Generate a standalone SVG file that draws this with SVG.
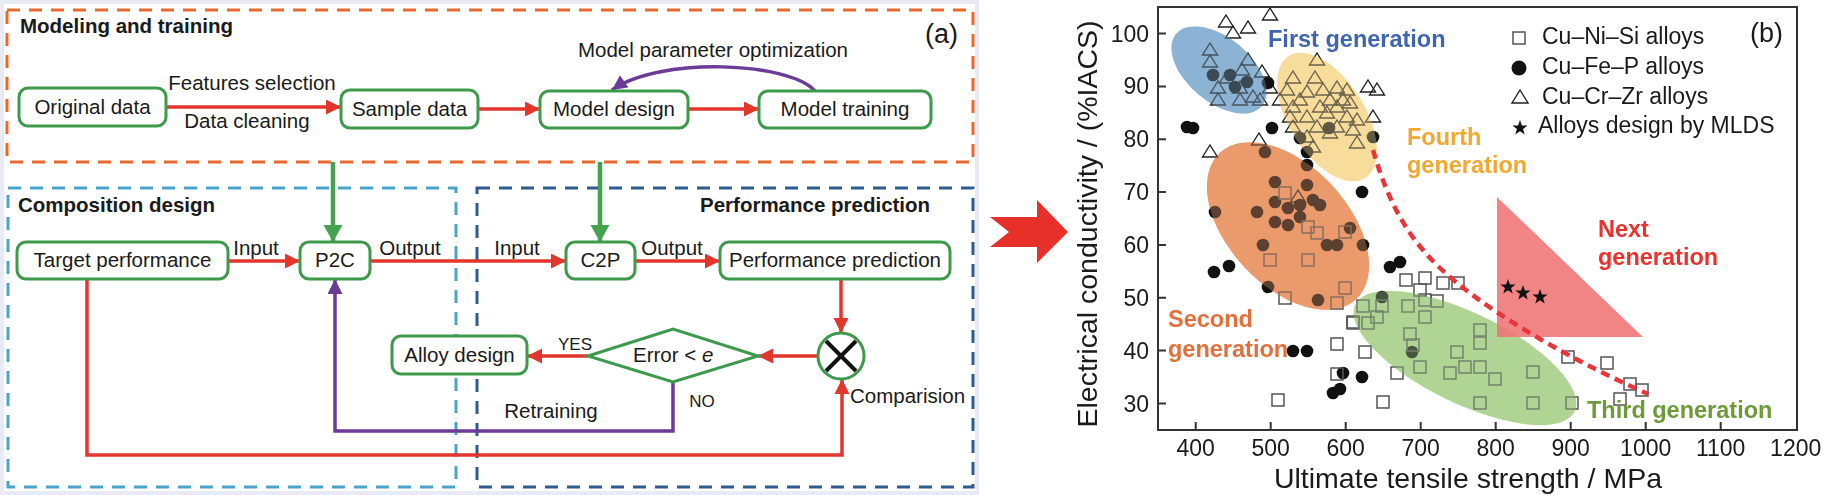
<svg xmlns="http://www.w3.org/2000/svg" xmlns:xlink="http://www.w3.org/1999/xlink" width="1831" height="495" viewBox="0 0 1831 495">
<style>
text{font-family:"Liberation Sans",Arial,sans-serif;fill:#1a1a1a}
.t{font-size:20.5px}
.tb{font-size:20.5px;font-weight:bold}
.sm{font-size:17px}
.c{text-anchor:middle}
.box{fill:#fff;stroke:#3d9a4c;stroke-width:3}
.red{stroke:#e2362d;stroke-width:3.5;fill:none}
.pur{stroke:#6b3b97;stroke-width:3.5;fill:none}
.grn{stroke:#43a34f;stroke-width:4.5;fill:none}
.ax{stroke:#333;stroke-width:2;fill:none}
.tk{font-size:23px}
.lg{font-size:23px}
.gen{font-size:23.5px;font-weight:bold}
</style>
<defs>
<marker id="ar" markerUnits="userSpaceOnUse" markerWidth="16" markerHeight="16" refX="15" refY="7.5" orient="auto"><path d="M0,0 L15,7.5 L0,15 z" fill="#e2362d"/></marker>
<marker id="ap" markerUnits="userSpaceOnUse" markerWidth="16" markerHeight="16" refX="15" refY="7.5" orient="auto"><path d="M0,0 L15,7.5 L0,15 z" fill="#6b3b97"/></marker>
<marker id="ag" markerUnits="userSpaceOnUse" markerWidth="18" markerHeight="20" refX="17" refY="9.5" orient="auto"><path d="M0,0 L17,9.5 L0,19 z" fill="#43a34f"/></marker>
<polygon id="tri" points="0,-7 7.5,5 -7.5,5" fill="none" stroke="#222" stroke-width="1.4"/>
<rect id="sq" x="-6" y="-6" width="12" height="12" fill="none" stroke="#555" stroke-width="1.5"/>
<circle id="dot" r="6.3" fill="#111"/>
<polygon id="star" points="0,-8 1.88,-2.59 7.61,-2.47 3.04,0.99 4.7,6.47 0,3.2 -4.7,6.47 -3.04,0.99 -7.61,-2.47 -1.88,-2.59" fill="#111"/>
</defs>
<rect width="1831" height="495" fill="#fff"/>
<!-- panel (a) frame -->
<rect x="2" y="2" width="975" height="491" fill="#fff" stroke="#e8ebf3" stroke-width="4"/>
<g id="group-modeling">
<rect x="7" y="10" width="966" height="152" fill="none" stroke="#e8692e" stroke-width="3" stroke-dasharray="13 9"/>
<text class="tb" x="20" y="33">Modeling and training</text>
</g>
<g id="group-composition">
<rect x="8" y="188" width="448" height="299" fill="none" stroke="#4aa3c9" stroke-width="3" stroke-dasharray="13 9"/>
<text class="tb" x="18" y="212">Composition design</text>
</g>
<g id="group-performance">
<rect x="477" y="188" width="496" height="299" fill="none" stroke="#2f5b8f" stroke-width="3" stroke-dasharray="13 9"/>
<text class="tb" x="700" y="212">Performance prediction</text>
</g>
<text class="t" x="925" y="43" style="font-size:27px">(a)</text>
<g id="connectors">
<line class="red" x1="166" y1="107" x2="341" y2="107" marker-end="url(#ar)"/>
<line class="red" x1="478" y1="109" x2="540" y2="109" marker-end="url(#ar)"/>
<line class="red" x1="688" y1="109" x2="759" y2="109" marker-end="url(#ar)"/>
<path class="pur" d="M815,91 C790,62 660,56 612,90" marker-end="url(#ap)"/>
<line class="grn" x1="333" y1="162" x2="333" y2="242" marker-end="url(#ag)"/>
<line class="grn" x1="600" y1="162" x2="600" y2="242" marker-end="url(#ag)"/>
<line class="red" x1="228" y1="261" x2="300" y2="261" marker-end="url(#ar)"/>
<line class="red" x1="370" y1="261" x2="566" y2="261" marker-end="url(#ar)"/>
<line class="red" x1="635" y1="261" x2="720" y2="261" marker-end="url(#ar)"/>
<line class="red" x1="841" y1="279" x2="841" y2="333" marker-end="url(#ar)"/>
<line class="red" x1="818" y1="356" x2="758" y2="356" marker-end="url(#ar)"/>
<line class="red" x1="588" y1="356" x2="527" y2="356" marker-end="url(#ar)"/>
<polyline class="pur" points="673,382 673,431 335,431 335,279" marker-end="url(#ap)"/>
<polyline class="red" points="87,279 87,455 842,455 842,379" marker-end="url(#ar)"/>
<text class="t c" x="252" y="90">Features selection</text>
<text class="t c" x="247" y="128">Data cleaning</text>
<text class="t c" x="713" y="57">Model parameter optimization</text>
<text class="t c" x="256" y="255">Input</text>
<text class="t c" x="410" y="255">Output</text>
<text class="t c" x="517" y="255">Input</text>
<text class="t c" x="672" y="255">Output</text>
<text class="sm c" x="575" y="350">YES</text>
<text class="sm c" x="702" y="407">NO</text>
<text class="t c" x="551" y="418">Retraining</text>
<text class="t" x="850" y="403">Comparision</text>
</g>
<g id="node-original"><rect class="box" x="19" y="88" width="147" height="38" rx="9"/><text class="t c" x="92.5" y="114">Original data</text></g>
<g id="node-sample"><rect class="box" x="341" y="90" width="137" height="38" rx="9"/><text class="t c" x="409.5" y="116">Sample data</text></g>
<g id="node-modeldesign"><rect class="box" x="540" y="91" width="148" height="37" rx="9"/><text class="t c" x="614" y="116">Model design</text></g>
<g id="node-modeltraining"><rect class="box" x="759" y="91" width="172" height="37" rx="9"/><text class="t c" x="845" y="116">Model training</text></g>
<g id="node-target"><rect class="box" x="17" y="242" width="211" height="37" rx="9"/><text class="t c" x="122.5" y="267">Target performance</text></g>
<g id="node-p2c"><rect class="box" x="300" y="242" width="70" height="37" rx="9"/><text class="t c" x="335" y="267">P2C</text></g>
<g id="node-c2p"><rect class="box" x="566" y="242" width="69" height="37" rx="9"/><text class="t c" x="600.5" y="267">C2P</text></g>
<g id="node-perfpred"><rect class="box" x="720" y="242" width="230" height="37" rx="9"/><text class="t c" x="835" y="267">Performance prediction</text></g>
<g id="node-alloy"><rect class="box" x="392" y="336" width="135" height="38" rx="9"/><text class="t c" x="459.5" y="362">Alloy design</text></g>
<g id="node-error"><polygon points="588,356 673,329 758,356 673,382" fill="#fff" stroke="#3d9a4c" stroke-width="3"/><text class="t" x="633" y="362">Error &lt; <tspan font-style="italic">e</tspan></text></g>
<g id="node-compare"><circle cx="841" cy="356" r="23" fill="#fff" stroke="#3d9a4c" stroke-width="3"/><path d="M826,341 L856,371 M856,341 L826,371" stroke="#111" stroke-width="4"/></g>
<!-- big arrow -->
<polygon points="990,217 1009,232 990,247 1037,247 1037,263 1068,232 1037,200 1037,217" fill="#e8302a"/>
<!-- panel (b) -->
<g id="plot">
<ellipse cx="1219" cy="70" rx="56" ry="32" transform="rotate(40 1219 70)" fill="#8db2d4"/>
<ellipse cx="1327" cy="117" rx="72" ry="38" transform="rotate(58 1327 117)" fill="#f7dc9c"/>
<ellipse cx="1288" cy="226" rx="100" ry="60" transform="rotate(47 1288 226)" fill="#ec9a6c"/>
<ellipse cx="1465" cy="358" rx="122" ry="45" transform="rotate(26 1465 358)" fill="#b0d494"/>
<g id="triangles">
<use href="#tri" x="1226" y="22"/><use href="#tri" x="1233" y="33"/><use href="#tri" x="1248" y="28"/><use href="#tri" x="1270" y="15"/>
<use href="#tri" x="1210" y="50"/><use href="#tri" x="1210" y="62"/><use href="#tri" x="1248" y="60"/>
<use href="#tri" x="1227" y="78"/><use href="#tri" x="1242" y="70"/><use href="#tri" x="1262" y="72"/>
<use href="#tri" x="1218" y="88"/><use href="#tri" x="1218" y="100"/><use href="#tri" x="1240" y="88"/><use href="#tri" x="1240" y="100"/><use href="#tri" x="1253" y="97"/><use href="#tri" x="1260" y="100"/><use href="#tri" x="1270" y="88"/><use href="#tri" x="1280" y="100"/>
<use href="#tri" x="1259" y="140"/><use href="#tri" x="1210" y="152"/>
<use href="#tri" x="1317" y="60"/><use href="#tri" x="1293" y="78"/><use href="#tri" x="1315" y="78"/><use href="#tri" x="1287" y="90"/><use href="#tri" x="1307" y="92"/><use href="#tri" x="1323" y="90"/><use href="#tri" x="1337" y="88"/><use href="#tri" x="1347" y="90"/>
<use href="#tri" x="1300" y="100"/><use href="#tri" x="1330" y="100"/><use href="#tri" x="1343" y="100"/><use href="#tri" x="1350" y="103"/><use href="#tri" x="1293" y="107"/><use href="#tri" x="1320" y="107"/><use href="#tri" x="1337" y="107"/>
<use href="#tri" x="1290" y="117"/><use href="#tri" x="1307" y="117"/><use href="#tri" x="1327" y="113"/><use href="#tri" x="1347" y="117"/><use href="#tri" x="1357" y="120"/>
<use href="#tri" x="1293" y="127"/><use href="#tri" x="1317" y="127"/><use href="#tri" x="1337" y="127"/><use href="#tri" x="1353" y="130"/><use href="#tri" x="1307" y="137"/><use href="#tri" x="1330" y="133"/><use href="#tri" x="1313" y="147"/><use href="#tri" x="1357" y="143"/>
<use href="#tri" x="1368" y="87"/><use href="#tri" x="1377" y="90"/><use href="#tri" x="1373" y="117"/><use href="#tri" x="1298" y="197"/>
</g>
<g id="dots">
<use href="#dot" x="1187" y="127"/><use href="#dot" x="1193" y="128"/>
<use href="#dot" x="1213" y="75"/><use href="#dot" x="1230" y="75"/><use href="#dot" x="1235" y="87"/><use href="#dot" x="1247" y="82"/><use href="#dot" x="1268" y="83"/>
<use href="#dot" x="1272" y="128"/><use href="#dot" x="1300" y="138"/><use href="#dot" x="1307" y="152"/><use href="#dot" x="1307" y="165"/><use href="#dot" x="1362" y="192"/><use href="#dot" x="1373" y="137"/><use href="#dot" x="1329" y="128"/>
<use href="#dot" x="1265" y="152"/><use href="#dot" x="1275" y="182"/><use href="#dot" x="1307" y="185"/><use href="#dot" x="1215" y="212"/><use href="#dot" x="1257" y="212"/><use href="#dot" x="1275" y="202"/><use href="#dot" x="1288" y="208"/><use href="#dot" x="1300" y="205"/><use href="#dot" x="1313" y="200"/><use href="#dot" x="1320" y="205"/><use href="#dot" x="1275" y="222"/><use href="#dot" x="1288" y="225"/><use href="#dot" x="1300" y="217"/>
<use href="#dot" x="1263" y="245"/><use href="#dot" x="1327" y="245"/><use href="#dot" x="1337" y="245"/><use href="#dot" x="1363" y="245"/><use href="#dot" x="1350" y="228"/>
<use href="#dot" x="1268" y="287"/><use href="#dot" x="1318" y="300"/><use href="#dot" x="1214" y="272"/><use href="#dot" x="1229" y="266"/><use href="#dot" x="1293" y="351"/><use href="#dot" x="1307" y="351"/>
<use href="#dot" x="1343" y="373"/><use href="#dot" x="1362" y="377"/><use href="#dot" x="1333" y="393"/><use href="#dot" x="1340" y="389"/><use href="#dot" x="1390" y="267"/><use href="#dot" x="1400" y="262"/><use href="#dot" x="1382" y="297"/><use href="#dot" x="1412" y="352"/>
</g>
<g id="squares">
<use href="#sq" x="1285" y="193"/><use href="#sq" x="1308" y="227"/><use href="#sq" x="1317" y="233"/><use href="#sq" x="1345" y="232"/><use href="#sq" x="1270" y="260"/><use href="#sq" x="1308" y="260"/><use href="#sq" x="1345" y="288"/><use href="#sq" x="1285" y="298"/><use href="#sq" x="1337" y="303"/><use href="#sq" x="1353" y="322"/><use href="#sq" x="1337" y="344"/>
<use href="#sq" x="1406" y="280"/><use href="#sq" x="1425" y="278"/><use href="#sq" x="1420" y="290"/><use href="#sq" x="1425" y="300"/><use href="#sq" x="1437" y="301"/><use href="#sq" x="1443" y="283"/><use href="#sq" x="1458" y="283"/>
<use href="#sq" x="1363" y="306"/><use href="#sq" x="1382" y="306"/><use href="#sq" x="1408" y="306"/><use href="#sq" x="1353" y="323"/><use href="#sq" x="1368" y="323"/><use href="#sq" x="1377" y="317"/><use href="#sq" x="1425" y="317"/><use href="#sq" x="1410" y="334"/><use href="#sq" x="1413" y="345"/>
<use href="#sq" x="1365" y="352"/><use href="#sq" x="1457" y="352"/><use href="#sq" x="1420" y="367"/><use href="#sq" x="1397" y="373"/><use href="#sq" x="1450" y="373"/><use href="#sq" x="1337" y="374"/><use href="#sq" x="1278" y="400"/><use href="#sq" x="1383" y="402"/>
<use href="#sq" x="1480" y="330"/><use href="#sq" x="1480" y="343"/><use href="#sq" x="1465" y="367"/><use href="#sq" x="1480" y="367"/><use href="#sq" x="1495" y="379"/><use href="#sq" x="1480" y="403"/><use href="#sq" x="1533" y="372"/><use href="#sq" x="1533" y="403"/><use href="#sq" x="1572" y="403"/>
<use href="#sq" x="1568" y="357"/><use href="#sq" x="1607" y="363"/><use href="#sq" x="1620" y="399"/><use href="#sq" x="1630" y="384"/><use href="#sq" x="1642" y="390"/>
</g>
<g opacity="0.35">
<ellipse cx="1219" cy="70" rx="56" ry="32" transform="rotate(40 1219 70)" fill="#8db2d4"/>
<ellipse cx="1327" cy="117" rx="72" ry="38" transform="rotate(58 1327 117)" fill="#f7dc9c"/>
<ellipse cx="1288" cy="226" rx="100" ry="60" transform="rotate(47 1288 226)" fill="#ec9a6c"/>
<ellipse cx="1465" cy="358" rx="122" ry="45" transform="rotate(26 1465 358)" fill="#b0d494"/>
</g>
<polygon points="1497,197 1497,337 1643,337" fill="#ef7474" opacity="0.88"/>
<use href="#star" x="1508" y="287"/><use href="#star" x="1523" y="293"/><use href="#star" x="1540" y="297"/>
<path d="M1373,150 C1385,190 1400,230 1440,268 S1560,355 1648,394" fill="none" stroke="#e8353a" stroke-width="4.5" stroke-dasharray="9 6"/>
<text class="gen" x="1268" y="47" style="fill:#3f66ad">First generation</text>
<text class="gen" x="1407" y="145" style="fill:#f0a830">Fourth</text>
<text class="gen" x="1407" y="173" style="fill:#f0a830">generation</text>
<text class="gen" x="1168" y="327" style="fill:#e2703a">Second</text>
<text class="gen" x="1168" y="357" style="fill:#e2703a">generation</text>
<text class="gen" x="1587" y="418" style="fill:#6e9a3a">Third generation</text>
<text class="gen" x="1598" y="237" style="fill:#e8322d">Next</text>
<text class="gen" x="1598" y="265" style="fill:#e8322d">generation</text>
</g>
<g id="axes">
<rect class="ax" x="1158" y="7" width="639" height="423"/>
<path class="ax" d="M1158,403.5h8M1158,350.6h8M1158,297.8h8M1158,244.9h8M1158,192.1h8M1158,139.2h8M1158,86.4h8M1158,33.5h8M1195.7,430v-8M1270.7,430v-8M1345.7,430v-8M1420.7,430v-8M1495.7,430v-8M1570.7,430v-8M1645.7,430v-8M1720.7,430v-8"/>
<g text-anchor="end">
<text class="tk" x="1149" y="411.5">30</text><text class="tk" x="1149" y="358.6">40</text><text class="tk" x="1149" y="305.8">50</text><text class="tk" x="1149" y="252.9">60</text><text class="tk" x="1149" y="200.1">70</text><text class="tk" x="1149" y="147.2">80</text><text class="tk" x="1149" y="94.4">90</text><text class="tk" x="1149" y="41.5">100</text>
</g>
<g text-anchor="middle">
<text class="tk" x="1195.7" y="456">400</text><text class="tk" x="1270.7" y="456">500</text><text class="tk" x="1345.7" y="456">600</text><text class="tk" x="1420.7" y="456">700</text><text class="tk" x="1495.7" y="456">800</text><text class="tk" x="1570.7" y="456">900</text><text class="tk" x="1645.7" y="456">1000</text><text class="tk" x="1720.7" y="456">1100</text><text class="tk" x="1795.7" y="456">1200</text>
</g>
<text x="1468" y="488" text-anchor="middle" style="font-size:28.5px">Ultimate tensile strength / MPa</text>
<text transform="translate(1097,224) rotate(-90)" text-anchor="middle" style="font-size:28.5px">Electrical conductivity / (%IACS)</text>
</g>
<g id="legend">
<use href="#sq" x="1519" y="38"/>
<circle cx="1519" cy="68" r="7.5" fill="#111"/>
<polygon points="1520,90 1528,103 1512,103" fill="none" stroke="#222" stroke-width="1.4"/>
<use href="#star" x="1520" y="128"/>
<text class="lg" x="1542" y="44">Cu–Ni–Si alloys</text>
<text class="lg" x="1542" y="74">Cu–Fe–P alloys</text>
<text class="lg" x="1542" y="104">Cu–Cr–Zr alloys</text>
<text class="lg" x="1538" y="133">Alloys design by MLDS</text>
<text x="1750" y="42" style="font-size:27px">(b)</text>
</g>
</svg>
